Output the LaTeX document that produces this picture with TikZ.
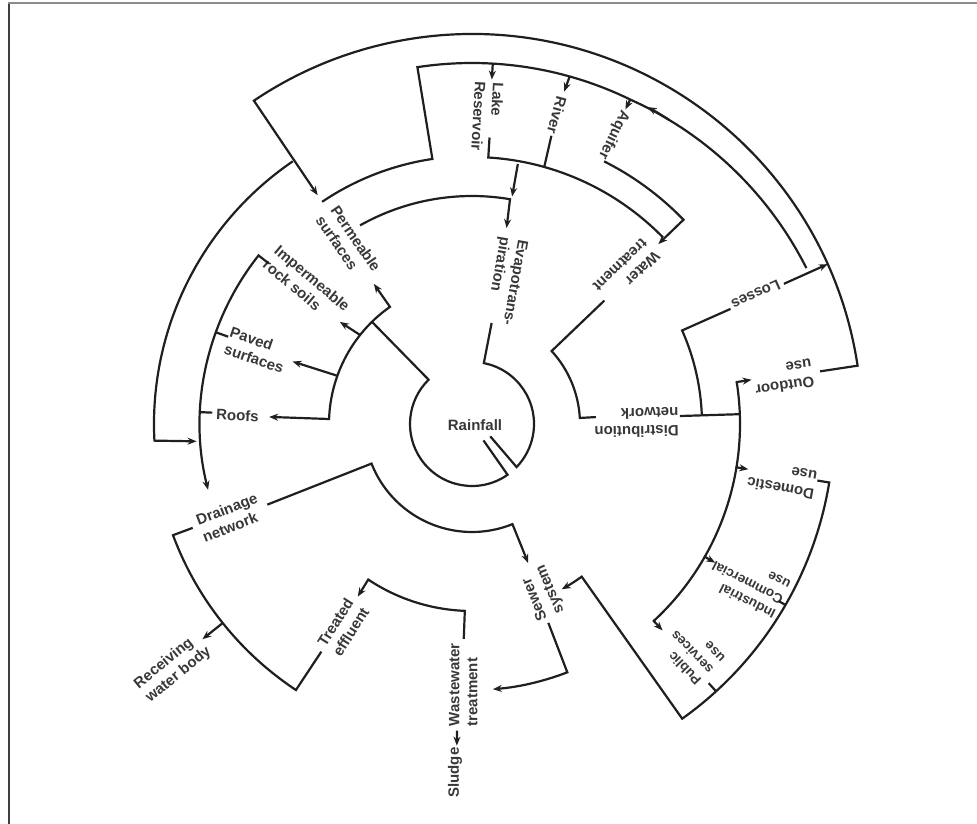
\documentclass[tikz,border=0pt]{standalone}
\usepackage{fontspec}
\setmainfont{Liberation Sans}
\usetikzlibrary{arrows.meta}
\begin{document}
\begin{tikzpicture}[x=1pt,y=1pt,
  ln/.style={line width=2.2pt, draw=black!88, line join=miter},
  arr/.style={ln, -{Stealth[length=9pt,width=7pt]}},
  dbl/.style={ln, {Stealth[length=9pt,width=7pt]}-{Stealth[length=9pt,width=7pt]}},
  lbl/.style={font=\fontsize{15}{18}\selectfont\bfseries, text=black!78, align=left, inner sep=0pt},
  slbl/.style={lbl, font=\fontsize{13.5}{16.5}\selectfont\bfseries}]
\useasboundingbox (-472pt,-400pt) rectangle (505pt,424pt);
% frame
\draw[black!75, line width=2pt] (-463pt,-400pt) -- (-463pt,421pt);
\draw[black!45, line width=1.8pt] (-464pt,421pt) -- (505pt,421pt);

% ---------- labels ----------
\node[lbl] (rain) at (3pt,-1pt) {Rainfall};
\node[lbl, rotate=-100] (evap) at (76.8:147pt) {Evapotrans-\\piration};
\node[lbl, rotate=-93] (lake) at (87.1:308pt) {Lake\\Reservoir};
\node[lbl, rotate=-105.4] (river) at (74.6:320pt) {River};
\node[lbl, rotate=-116] (aquifer) at (63.9:322pt) {Aquifer};
\node[lbl, rotate=-136] (wtreat) at (44.6:217pt) {Water\\treatment};
\node[lbl, rotate=204.5] (losses) at (24.5:312pt) {Losses};
\node[lbl, rotate=188.5] (outdoor) at (8.5:315pt) {Outdoor\\use};
\node[lbl, rotate=181] (distrib) at (0.5:164.5pt) {Distribution\\network};
\node[lbl, rotate=170] (domestic) at (-10.2:315pt) {Domestic\\use};
\node[slbl, rotate=153] (industrial) at (-30:318pt) {Industrial\\Commercial\\use};
\node[slbl, rotate=134] (public) at (-46.1:317pt) {Public\\services\\use};
\node[lbl, rotate=112.6] (sewer) at (-67.4:182.5pt) {Sewer\\system};
\node[lbl, rotate=90] (wwtp) at (268.1:261pt) {Wastewater\\treatment};
\node[lbl, rotate=90] (sludge) at (267.2:349pt) {Sludge};
\node[lbl, rotate=57.6] (effluent) at (237.6:240.5pt) {Treated\\effluent};
\node[lbl, rotate=39.2] (receiving) at (219.2:386pt) {Receiving\\water body};
\node[lbl, rotate=21.1] (drainage) at (201.1:259.4pt) {Drainage\\network};
\node[lbl, rotate=-2.1] (roofs) at (177.9:234.7pt) {Roofs};
\node[lbl, rotate=-19] (paved) at (161:227.4pt) {Paved\\surfaces};
\node[lbl, rotate=-40] (imperm) at (140:216pt) {Impermeable\\rock soils};
\node[lbl, rotate=-55.6] (perm) at (124.4:218.7pt) {Permeable\\surfaces};

% ---------- connectors ----------
% outdoor use -> outer arc -> permeable surfaces
\draw[arr] (8.6:352pt) -- (8.6:390pt) arc[start angle=8.6, end angle=124, radius=390pt] -- (124:276pt);
% outer left arc -> inner left arc
\draw[arr] (124.3:318pt) arc[start angle=124.3, end angle=183, radius=318pt] -- (183.6:276pt);
% impermeable / paved / roofs -> drainage network
\draw[arr] (141.7:259pt) -- (141.7:272pt) arc[start angle=141.7, end angle=194, radius=272pt];
\draw[ln] (160.3:272pt) -- (160.3:259pt);
\draw[ln] (177.5:272pt) -- (177.5:260pt);

% rainfall circle
\draw[ln] (79:103pt) -- (79:62pt) arc[start angle=79, end angle=-44, radius=62pt] -- (-34:22pt);
\draw[ln] (-55:20pt) -- (-55:62pt) arc[start angle=-55, end angle=-225.6, radius=62pt] -- (134.4:143pt);
% rainfall -> surfaces
\draw[dbl] (125:171pt) -- (125:143pt) arc[start angle=125, end angle=178, radius=143pt] -- (178:203pt);
\draw[arr] (141.5:143pt) -- (142.3:167pt);
\draw[arr] (160.3:143pt) -- (160.8:190pt);

% evapotranspiration
\draw[arr] (119.4:228pt) arc[start angle=119.4, end angle=80.4, radius=228pt] -- (80:199pt);
\draw[arr] (80:264pt) -- (80:231pt);

% infiltration band and losses band
\draw[ln] (124:268pt) arc[start angle=124, end angle=98.5, radius=268pt] -- (98.7:361pt) arc[start angle=98.7, end angle=64, radius=361pt] -- plot[domain=64:25,samples=25] (\x:{361+(64-\x)*0.205});
\draw[arr] (57:362.4pt) arc[start angle=57, end angle=61, radius=362.4pt];
\draw[arr] (86.7:361pt) -- (86.7:345pt);
\draw[arr] (74.3:361pt) -- (74.5:345pt);
\draw[arr] (64:361pt) -- (64:350pt);

% sources -> water treatment
\draw[ln] (86.5:287pt) -- (86.5:267pt) arc[start angle=86.5, end angle=44.3, radius=267pt];
\draw[ln] (74.6:299pt) -- (74.3:267pt);
\draw[arr] (63.3:294pt) arc[start angle=63.3, end angle=44, radius=294pt] -- (44:259pt);

% water treatment -> distribution network
\draw[ln] (43:181pt) -- (42.5:108pt) arc[start angle=42.5, end angle=3.2, radius=108pt] -- (3.2:124pt);
\draw[ln] (2.2:208pt) -- (2.1:267pt);
% losses
\draw[ln] (2.2:230pt) arc[start angle=2.2, end angle=24, radius=230pt] -- (24:283pt);
\draw[arr] (24.2:342pt) -- (24.2:390pt);

% distribution to uses
\draw[ln] (9:268pt) arc[start angle=9, end angle=-47.3, radius=268pt];
\draw[arr] (9:267pt) -- (9:283pt);
\draw[arr] (-9.3:267pt) -- (-9.3:280pt);
\draw[arr] (-29.7:267pt) -- (-29.7:280pt);
\draw[arr] (-47.3:267pt) -- (-47.3:281pt);

% uses -> sewer system
\draw[arr] (-9.3:350pt) -- (-9.3:362pt) arc[start angle=-9.3, end angle=-54.5, radius=362pt] -- (-54.3:188pt) arc[start angle=-54.3, end angle=-61.5, radius=188pt];
\draw[ln] (-30:362pt) -- (-30:354pt);
\draw[ln] (-47.6:362pt) -- (-47.6:351pt);

% drainage network -> sewer system
\draw[arr] (201.5:220pt) -- (201.5:108pt) arc[start angle=201.5, end angle=292, radius=108pt] -- (292:150pt);
% drainage network -> receiving water body / treated effluent
\draw[ln] (200.4:298pt) -- (200.4:319pt) arc[start angle=200.4, end angle=236.5, radius=319pt] -- (236.5:273pt);
\draw[arr] (218.6:319pt) -- (218.6:345pt);
% wastewater treatment -> treated effluent
\draw[arr] (267.8:215pt) -- (267.8:187pt) arc[start angle=267.8, end angle=236.3, radius=187pt] -- (236.5:207pt);
% sewer -> wastewater treatment
\draw[arr] (-69:213pt) -- (-69:266pt) arc[start angle=-69, end angle=-85.5, radius=266pt];
% wastewater -> sludge
\draw[arr] (267.2:307pt) -- (267.3:322pt);
\end{tikzpicture}
\end{document}
